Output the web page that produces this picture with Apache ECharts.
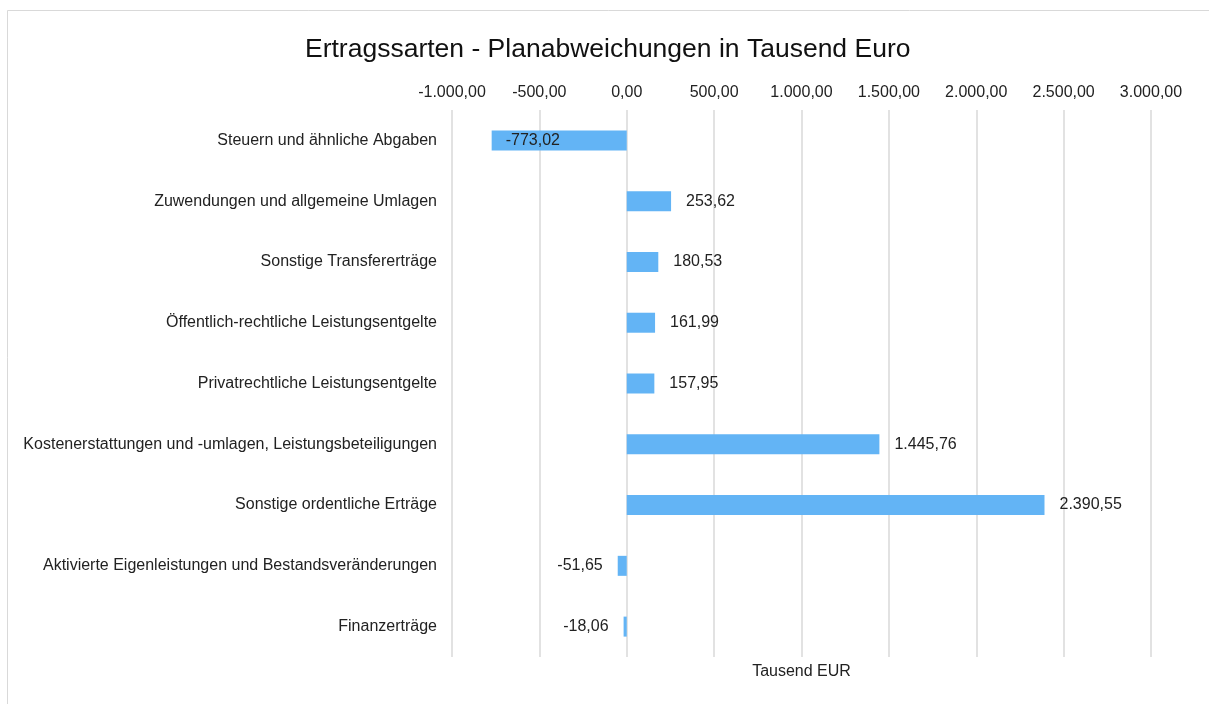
<!DOCTYPE html>
<html>
<head>
<meta charset="utf-8">
<title>Ertragssarten</title>
<script src="https://cdn.jsdelivr.net/npm/echarts@6/dist/echarts.min.js"></script>
<style>
  html, body { margin: 0; padding: 0; background: #fff; }
  #main { width: 1209px; height: 704px; }
</style>
</head>
<body>
<div id="main"></div>
<script>
var categories = [
  'Steuern und ähnliche Abgaben',
  'Zuwendungen und allgemeine Umlagen',
  'Sonstige Transfererträge',
  'Öffentlich-rechtliche Leistungsentgelte',
  'Privatrechtliche Leistungsentgelte',
  'Kostenerstattungen und -umlagen, Leistungsbeteiligungen',
  'Sonstige ordentliche Erträge',
  'Aktivierte Eigenleistungen und Bestandsveränderungen',
  'Finanzerträge'
];
var deviations = [-773.02, 253.62, 180.53, 161.99, 157.95, 1445.76, 2390.55, -51.65, -18.06];

// German number format: 1.234,56
function fmt(v) {
  var neg = v < 0;
  var parts = Math.abs(v).toFixed(2).split('.');
  var intPart = parts[0].replace(/\B(?=(\d{3})+(?!\d))/g, '.');
  return (neg ? '-' : '') + intPart + ',' + parts[1];
}

var font = '"Liberation Sans", Arial, sans-serif';

var barData = deviations.map(function(v) {
  var item = { value: v };
  if (v < -500) {
    item.label = { position: 'insideLeft', distance: 14 };
  } else if (v < 0) {
    item.label = { position: 'left' };
  }
  return item;
});

var chart = echarts.init(document.getElementById('main'));
chart.setOption({
  animation: false,
  backgroundColor: '#fff',
  graphic: [{
    type: 'rect',
    shape: { x: 7.5, y: 10.5, width: 1220, height: 720 },
    style: { fill: 'none', stroke: '#d9d9d9', lineWidth: 1 },
    silent: true
  }],
  title: {
    text: 'Ertragssarten - Planabweichungen in Tausend Euro',
    left: 300,
    top: 31,
    textStyle: { fontFamily: font, fontSize: 26.5, fontWeight: 'normal', color: '#111' }
  },
  grid: { left: 452, right: 58, top: 110, bottom: 47 },
  xAxis: [{
    type: 'value',
    position: 'top',
    min: -1000,
    max: 3000,
    interval: 500,
    axisLine: { show: false },
    axisTick: { show: false },
    axisLabel: {
      margin: 9,
      fontFamily: font,
      fontSize: 16,
      color: '#222',
      formatter: fmt
    },
    splitLine: { lineStyle: { color: '#d9d9d9', width: 1.5 } }
  }, {
    type: 'value',
    position: 'bottom',
    min: -1000,
    max: 3000,
    name: 'Tausend EUR',
    nameLocation: 'middle',
    nameGap: 7,
    nameTextStyle: { fontFamily: font, fontSize: 16, color: '#222', verticalAlign: 'top' },
    axisLine: { show: false },
    axisTick: { show: false },
    axisLabel: { show: false },
    splitLine: { show: false }
  }],
  yAxis: {
    type: 'category',
    inverse: true,
    data: categories,
    axisLine: { show: false },
    axisTick: { show: false },
    axisLabel: { margin: 15, fontFamily: font, fontSize: 16, color: '#222' }
  },
  series: [{
    type: 'bar',
    xAxisIndex: 0,
    data: barData,
    barWidth: 20,
    itemStyle: { color: '#63b4f5' },
    label: {
      show: true,
      position: 'right',
      distance: 15,
      fontFamily: font,
      fontSize: 16,
      color: '#222',
      formatter: function(p) { return fmt(p.value); }
    }
  }]
});
</script>
</body>
</html>
